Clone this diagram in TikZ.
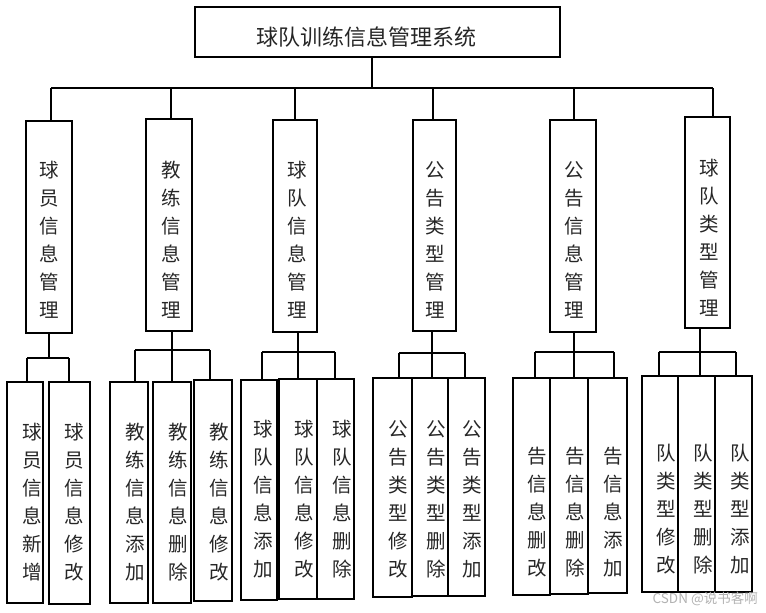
\documentclass[tikz,border=0pt]{standalone}
\usepackage{fontspec}
\newfontfamily\cjk{Noto Sans CJK SC}
\begin{document}
\begin{tikzpicture}[x=1pt,y=-1pt,
  box/.style={draw, line width=1.2pt, inner sep=0pt, outer sep=0pt, rectangle},
  vt/.style={font=\cjk\fontsize{19.5}{28}\selectfont, align=center, inner sep=0pt, text=black!85},
  conn/.style={line width=1.2pt},
  wm/.style={font=\cjk\fontsize{13.5}{15}\selectfont, text=black!30, inner sep=0pt}]
\useasboundingbox (0,0) rectangle (766,613);
\newcommand\mybox[5]{\node[box, minimum width={(#3-#2)*1pt}, minimum height={(#5-#4)*1pt}] (#1) at ({(#2+#3)/2},{(#4+#5)/2}) {};}
% title
\mybox{top}{195}{560}{7}{57}
\node[font=\cjk\fontsize{22}{24}\selectfont, inner sep=0pt, text=black!85] (ttl) at (366,37) {球队训练信息管理系统};
% level 2
\mybox{b1}{26}{72}{121}{333}
\mybox{b2}{146}{192}{119}{331}
\mybox{b3}{273}{317}{120}{332}
\mybox{b4}{413}{456}{120}{331}
\mybox{b5}{550}{596}{120}{332}
\mybox{b6}{685}{730}{117}{328}
\node[vt] (tb1) at (49,240) {球\\员\\信\\息\\管\\理};
\node[vt] (tb2) at (171,240) {教\\练\\信\\息\\管\\理};
\node[vt] (tb3) at (297,240) {球\\队\\信\\息\\管\\理};
\node[vt] (tb4) at (435,240) {公\\告\\类\\型\\管\\理};
\node[vt] (tb5) at (574,240) {公\\告\\信\\息\\管\\理};
\node[vt] (tb6) at (709,238) {球\\队\\类\\型\\管\\理};
% level 3
\mybox{ca}{7}{43}{382}{603}
\mybox{cb}{49}{90}{382}{604}
\mybox{cc}{110}{148}{382}{603}
\mybox{cd}{153}{191}{382}{603}
\mybox{ce}{194}{232}{380}{601}
\mybox{cf}{241}{277}{380}{600}
\mybox{cg}{279}{317}{379}{599}
\mybox{ch}{317}{354}{379}{599}
\mybox{ci}{373}{412}{378}{597}
\mybox{cj}{412}{448}{378}{596}
\mybox{ck}{448}{485}{378}{596}
\mybox{cl}{513}{550}{378}{595}
\mybox{cm}{550}{588}{378}{594}
\mybox{cn}{588}{627}{378}{593}
\mybox{co}{642}{678}{376}{592}
\mybox{cp}{678}{715}{376}{592}
\mybox{cq}{715}{752}{376}{592}
\node[vt] (ta) at (32,502) {球\\员\\信\\息\\新\\增};
\node[vt] (tb) at (74,502) {球\\员\\信\\息\\修\\改};
\node[vt] (tc) at (135,502) {教\\练\\信\\息\\添\\加};
\node[vt] (td) at (178,502) {教\\练\\信\\息\\删\\除};
\node[vt] (te) at (219,502) {教\\练\\信\\息\\修\\改};
\node[vt] (tf) at (263,499) {球\\队\\信\\息\\添\\加};
\node[vt] (tg) at (304,499) {球\\队\\信\\息\\修\\改};
\node[vt] (th) at (342,499) {球\\队\\信\\息\\删\\除};
\node[vt] (ti) at (398,499) {公\\告\\类\\型\\修\\改};
\node[vt] (tj) at (436,499) {公\\告\\类\\型\\删\\除};
\node[vt] (tk) at (472,499) {公\\告\\类\\型\\添\\加};
\node[vt] (tl) at (537,512) {告\\信\\息\\删\\改};
\node[vt] (tm) at (575,512) {告\\信\\息\\删\\除};
\node[vt] (tn) at (613,512) {告\\信\\息\\添\\加};
\node[vt] (to) at (666,509) {队\\类\\型\\修\\改};
\node[vt] (tp) at (703,509) {队\\类\\型\\删\\除};
\node[vt] (tq) at (740,509) {队\\类\\型\\添\\加};
% main bus
\coordinate (mb) at (372,88);
\coordinate (m1) at (51,88);
\coordinate (m2) at (171,88);
\coordinate (m3) at (295,88);
\coordinate (m4) at (433,88);
\coordinate (m5) at (574,88);
\coordinate (m6) at (713,88);
\draw[conn] (top.south -| mb) -- (mb);
\draw[conn] (m1) -- (m6);
\foreach \i in {1,...,6} {\draw[conn] (m\i) -- (b\i.north -| m\i);}
% group buses
\coordinate (g1) at (49,358);  \coordinate (g1a) at (27,358);  \coordinate (g1b) at (69,358);
\draw[conn] (b1.south -| g1) -- (g1);
\draw[conn] (g1a) -- (g1b);
\draw[conn] (g1a) -- (ca.north -| g1a);
\draw[conn] (g1b) -- (cb.north -| g1b);
\coordinate (g2) at (172,350); \coordinate (g2a) at (135,350); \coordinate (g2c) at (210,350);
\draw[conn] (b2.south -| g2) -- (g2);
\draw[conn] (g2a) -- (g2c);
\draw[conn] (g2a) -- (cc.north -| g2a);
\draw[conn] (g2) -- (cd.north -| g2);
\draw[conn] (g2c) -- (ce.north -| g2c);
\coordinate (g3) at (298,352); \coordinate (g3a) at (262,352); \coordinate (g3c) at (335,352);
\draw[conn] (b3.south -| g3) -- (g3);
\draw[conn] (g3a) -- (g3c);
\draw[conn] (g3a) -- (cf.north -| g3a);
\draw[conn] (g3) -- (cg.north -| g3);
\draw[conn] (g3c) -- (ch.north -| g3c);
\coordinate (g4) at (432,353); \coordinate (g4a) at (399,353); \coordinate (g4c) at (465,353);
\draw[conn] (b4.south -| g4) -- (g4);
\draw[conn] (g4a) -- (g4c);
\draw[conn] (g4a) -- (ci.north -| g4a);
\draw[conn] (g4) -- (cj.north -| g4);
\draw[conn] (g4c) -- (ck.north -| g4c);
\coordinate (g5) at (574,352); \coordinate (g5a) at (535,352); \coordinate (g5c) at (614,352);
\draw[conn] (b5.south -| g5) -- (g5);
\draw[conn] (g5a) -- (g5c);
\draw[conn] (g5a) -- (cl.north -| g5a);
\draw[conn] (g5) -- (cm.north -| g5);
\draw[conn] (g5c) -- (cn.north -| g5c);
\coordinate (g6) at (700,352); \coordinate (g6a) at (659,352); \coordinate (g6c) at (736,352);
\draw[conn] (b6.south -| g6) -- (g6);
\draw[conn] (g6a) -- (g6c);
\draw[conn] (g6a) -- (co.north -| g6a);
\draw[conn] (g6) -- (cp.north -| g6);
\draw[conn] (g6c) -- (cq.north -| g6c);
% watermark
\node[wm, anchor=east] (wmk) at (758,599) {CSDN @说书客啊};
\end{tikzpicture}
\end{document}
